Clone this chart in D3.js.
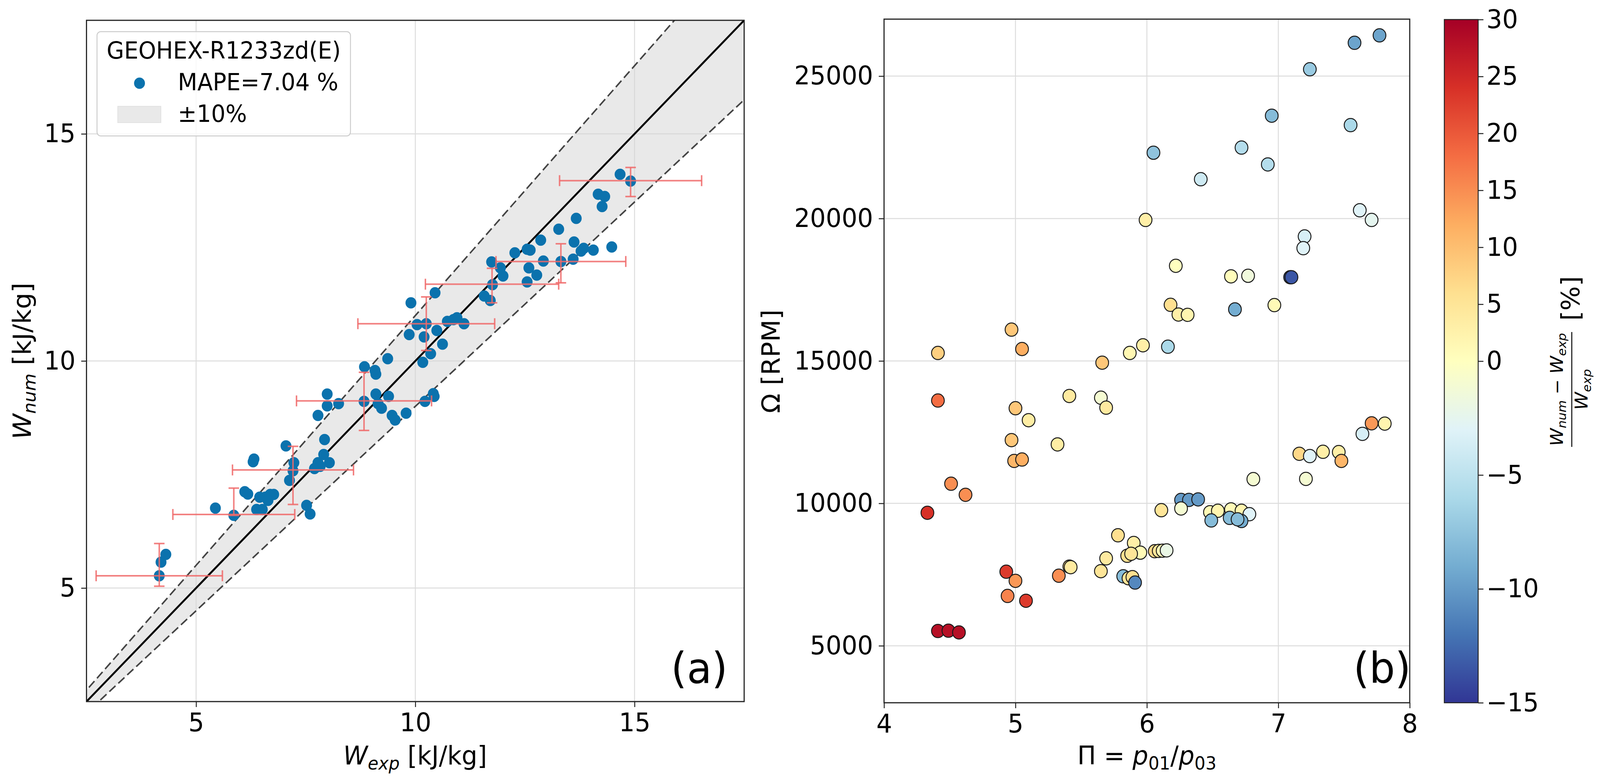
<!DOCTYPE html>
<html>
<head>
<meta charset="utf-8">
<script src="https://cdn.jsdelivr.net/npm/d3@7"></script>
<style>
  html, body { margin: 0; padding: 0; overflow: hidden; background: #fff; }
  svg { display: block; }
  text { font-family: "DejaVu Sans", sans-serif; fill: #000; }
</style>
</head>
<body>
<script>
// panel (a): numerical vs experimental work, kJ/kg
var wExp = [4.16,4.20,4.31,5.44,5.86,6.11,6.18,6.32,6.30,6.38,6.51,6.45,6.58,6.69,6.77,6.64,
  7.05,7.23,7.21,7.13,7.52,7.60,7.93,7.91,8.04,7.78,7.70,7.83,7.99,7.78,7.99,8.25,8.83,8.84,
  9.08,9.10,9.37,9.10,9.39,9.15,9.23,9.47,9.54,9.79,10.22,10.43,10.41,9.86,10.20,10.35,10.17,
  10.62,10.49,10.04,10.25,10.73,10.87,10.95,11.11,9.90,10.45,11.57,11.71,11.76,12.00,11.94,
  11.74,12.27,12.55,12.62,12.86,12.59,12.77,12.55,12.92,13.32,13.27,13.67,13.62,13.60,13.78,
  13.84,14.06,14.48,14.17,14.32,14.26,14.67,14.91];
var wNum = [5.27,5.57,5.74,6.76,6.60,7.12,7.07,7.84,7.78,6.73,6.73,7.00,7.00,7.06,7.06,6.93,
  8.13,7.76,7.58,7.37,6.82,6.63,8.27,7.94,7.76,7.76,7.63,7.68,9.27,8.80,9.01,9.06,9.11,9.87,
  9.79,9.71,10.05,9.27,9.22,9.06,8.96,8.80,8.70,8.85,9.11,9.22,9.28,10.58,10.53,10.16,9.97,
  10.37,10.67,10.80,10.82,10.87,10.91,10.95,10.82,11.28,11.50,11.43,11.33,11.68,11.87,12.05,
  12.18,12.38,12.46,12.44,12.66,12.05,11.89,11.74,12.20,12.19,12.90,13.14,12.62,12.24,12.42,
  12.48,12.44,12.51,13.67,13.62,13.40,14.11,13.96];

// binned uncertainty bars
var barX = [4.16,5.86,7.21,8.83,10.25,11.75,13.32,14.91];
var barHy = [5.27,6.62,7.60,9.12,10.82,11.69,12.19,13.97];
var barXerr = [1.44,1.39,1.38,1.54,1.56,1.52,1.48,1.62];
var barVy = [5.51,6.90,7.48,9.11,10.82,11.66,12.15,13.94];
var barYerr = [0.47,0.30,0.64,0.64,0.59,0.38,0.43,0.32];

var ticksA = [5,10,15];

// panel (b): pressure ratio, speed and deviation (%)
var piRatio = [7.77,7.58,7.24,6.95,7.55,6.05,6.72,6.92,6.41,7.62,7.71,5.99,7.20,7.19,6.22,6.64,
  6.77,7.09,7.10,6.18,6.24,6.31,6.67,6.97,4.97,5.05,4.41,5.66,5.87,5.97,6.16,4.41,5.41,5.65,
  5.69,5.00,5.10,4.97,5.32,4.99,5.05,7.71,7.81,7.64,7.16,7.24,7.34,7.46,7.48,6.81,7.21,
  4.51,4.62,4.33,6.11,6.26,6.32,6.39,6.26,6.48,6.54,6.64,6.72,6.78,6.49,6.63,6.72,6.69,
  5.78,5.90,5.95,5.85,5.88,6.06,6.09,6.12,6.15,5.69,5.65,5.41,5.42,5.33,4.93,5.00,4.94,
  5.08,5.82,5.86,5.89,5.91,4.41,4.49,4.57];
var omega = [26430,26170,25240,23610,23280,22310,22490,21900,21380,20290,19950,19950,19370,
  18960,18340,17970,17990,17940,17940,16970,16630,16620,16810,16960,16100,15420,15280,14940,
  15280,15550,15500,13610,13770,13710,13360,13340,12920,12220,12070,11490,11540,12810,12800,
  12440,11740,11660,11810,11800,11490,10850,10860,10690,10300,9670,9760,10120,10120,10140,
  9820,9690,9740,9790,9740,9620,9400,9490,9380,9440,8880,8610,8270,8160,8230,8320,8330,8340,
  8350,8070,7620,7780,7760,7460,7600,7280,6750,6580,7440,7370,7410,7220,5520,5530,5470];
var deviation = [-9.5,-9.5,-7,-8,-6,-7.5,-5.5,-5.5,-4,-3,-2.5,3,-3.5,-3,0,0.5,-1.5,-13.5,
  -13.5,6,3,2,-9,1,9,12,8,9,1.5,3,-6,18,4,-1,4,9,3.5,9,3.5,11,12,14,2,-3.5,7,-3,3,3,11,-1,-1,
  15,15,24,5,-10,-10,-10,-1,1,2,1,2,-3,-8,-8,-9,-8,6,3,1,6,5,7,5,1,-2,4,5,6,4,15,23,14,16,
  23,-8,5,6,-11,28,28,28];

var ticksBx = [4,5,6,7,8];
var ticksBy = [5000,10000,15000,20000,25000];
var ticksCb = [30,25,20,15,10,5,0,-5,-10,-15];

// RdYlBu reversed, matplotlib stops
var cmapStops = ["#313695","#4575b4","#74add1","#abd9e9","#e0f3f8","#ffffbf",
  "#fee090","#fdae61","#f46d43","#d73027","#a50026"];

var W = 4255, H = 2007;
var fs = 66;

// fit the drawing to whatever the window really shows
var vw = window.innerWidth || W, vh = window.innerHeight || H;
var svg = d3.select("body").append("svg")
  .attr("width", vw).attr("height", vh)
  .attr("viewBox", "0 0 " + W + " " + H)
  .attr("preserveAspectRatio", "none");
svg.append("rect").attr("width", W).attr("height", H).attr("fill", "#fff");

function fmt(v) { return String(v).replace("-", "\u2212"); }

// grid lines behind everything
function axesGrid(g, x, y, xt, yt) {
  var x0 = x.range()[0], x1 = x.range()[1];
  var y0 = y.range()[0], y1 = y.range()[1];
  g.append("g").selectAll("line").data(xt).enter().append("line")
    .attr("x1", function(d) { return x(d); }).attr("x2", function(d) { return x(d); })
    .attr("y1", y0).attr("y2", y1)
    .attr("stroke", "#dcdcdc").attr("stroke-width", 2.5);
  g.append("g").selectAll("line").data(yt).enter().append("line")
    .attr("y1", function(d) { return y(d); }).attr("y2", function(d) { return y(d); })
    .attr("x1", x0).attr("x2", x1)
    .attr("stroke", "#dcdcdc").attr("stroke-width", 2.5);
}

// ticks, labels and frame on top
function axesTicks(g, x, y, xt, yt) {
  var xAxis = d3.axisBottom(x).tickValues(xt).tickSize(14).tickPadding(15)
    .tickFormat(fmt);
  var yAxis = d3.axisLeft(y).tickValues(yt).tickSize(14).tickPadding(15)
    .tickFormat(fmt);
  var gx = g.append("g").attr("transform", "translate(0," + y.range()[0] + ")").call(xAxis);
  var gy = g.append("g").attr("transform", "translate(" + x.range()[0] + ",0)").call(yAxis);
  [gx, gy].forEach(function(a) {
    a.select(".domain").remove();
    a.selectAll(".tick line").attr("stroke", "#222").attr("stroke-width", 2.5);
    a.selectAll(".tick text").style("font-size", fs + "px").attr("fill", "#000");
  });
  g.append("rect")
    .attr("x", x.range()[0]).attr("y", y.range()[1])
    .attr("width", x.range()[1] - x.range()[0]).attr("height", y.range()[0] - y.range()[1])
    .attr("fill", "none").attr("stroke", "#222").attr("stroke-width", 3);
}

// ---------------- panel (a)
var xa = d3.scaleLinear().domain([2.5, 17.5]).range([230, 1979]);
var ya = d3.scaleLinear().domain([2.5, 17.5]).range([1796, 52]);
var ga = svg.append("g");
axesGrid(ga, xa, ya, ticksA, ticksA);

svg.append("clipPath").attr("id", "clipA").append("rect")
  .attr("x", 230).attr("y", 52).attr("width", 1749).attr("height", 1744);
var pa = ga.append("g").attr("clip-path", "url(#clipA)");

var band = d3.area()
  .x(function(d) { return xa(d); })
  .y0(function(d) { return ya(0.9 * d); })
  .y1(function(d) { return ya(1.1 * d); });
var diag = [2.0, 18.0];
pa.append("path").datum(diag).attr("d", band)
  .attr("fill", "#d3d3d3").attr("fill-opacity", 0.5);
[0.9, 1.1].forEach(function(k) {
  pa.append("path").datum(diag)
    .attr("d", d3.line().x(function(d) { return xa(d); }).y(function(d) { return ya(k * d); }))
    .attr("fill", "none").attr("stroke", "#444").attr("stroke-width", 4)
    .attr("stroke-dasharray", "22,10");
});
pa.append("path").datum(diag)
  .attr("d", d3.line().x(function(d) { return xa(d); }).y(function(d) { return ya(d); }))
  .attr("fill", "none").attr("stroke", "#000").attr("stroke-width", 5);

pa.append("g").selectAll("circle").data(wExp).enter().append("circle")
  .attr("cx", function(d) { return xa(d); })
  .attr("cy", function(d, i) { return ya(wNum[i]); })
  .attr("r", 14.5).attr("fill", "#0b72ad");

var eb = pa.append("g").attr("stroke", "#f06a6a").attr("stroke-opacity", 0.85)
  .attr("stroke-width", 4).attr("fill", "none");
var cap = 14;
barX.forEach(function(cx, i) {
  var xl = xa(cx - barXerr[i]), xr = xa(cx + barXerr[i]), yh = ya(barHy[i]);
  eb.append("line").attr("x1", xl).attr("x2", xr).attr("y1", yh).attr("y2", yh);
  eb.append("line").attr("x1", xl).attr("x2", xl).attr("y1", yh - cap).attr("y2", yh + cap);
  eb.append("line").attr("x1", xr).attr("x2", xr).attr("y1", yh - cap).attr("y2", yh + cap);
  var yt = ya(barVy[i] + barYerr[i]), yb = ya(barVy[i] - barYerr[i]), xv = xa(cx);
  eb.append("line").attr("x1", xv).attr("x2", xv).attr("y1", yt).attr("y2", yb);
  eb.append("line").attr("x1", xv - cap).attr("x2", xv + cap).attr("y1", yt).attr("y2", yt);
  eb.append("line").attr("x1", xv - cap).attr("x2", xv + cap).attr("y1", yb).attr("y2", yb);
});

axesTicks(ga, xa, ya, ticksA, ticksA);

// legend
var lfs = 60;
var lg = ga.append("g");
lg.append("rect").attr("x", 258).attr("y", 81).attr("width", 674).attr("height", 267)
  .attr("rx", 10).attr("fill", "#fff").attr("fill-opacity", 0.8)
  .attr("stroke", "#cccccc").attr("stroke-width", 2.5);
lg.append("text").attr("x", 595).attr("y", 150).attr("text-anchor", "middle")
  .style("font-size", lfs + "px").text("GEOHEX-R1233zd(E)");
lg.append("circle").attr("cx", 371).attr("cy", 213).attr("r", 14.5).attr("fill", "#0b72ad");
lg.append("text").attr("x", 473).attr("y", 231).style("font-size", lfs + "px")
  .text("MAPE=7.04 %");
lg.append("rect").attr("x", 313).attr("y", 272).attr("width", 115).attr("height", 42)
  .attr("fill", "#d3d3d3").attr("fill-opacity", 0.5).attr("stroke", "#d3d3d3")
  .attr("stroke-opacity", 0.5).attr("stroke-width", 2);
lg.append("text").attr("x", 473).attr("y", 312).style("font-size", lfs + "px")
  .text("\u00b110%");

ga.append("text").attr("x", 1935).attr("y", 1748).attr("text-anchor", "end")
  .style("font-size", "108px").text("(a)");

// axis labels (a)
var labA = ga.append("text").attr("x", 1104).attr("y", 1957).attr("text-anchor", "middle")
  .style("font-size", fs + "px");
labA.append("tspan").attr("font-style", "italic").text("W");
labA.append("tspan").attr("font-style", "italic").attr("font-size", "46px")
  .attr("dy", 13).text("exp");
labA.append("tspan").attr("dy", -13).text(" [kJ/kg]");

var labAy = ga.append("text").attr("transform", "translate(82,924) rotate(-90)")
  .attr("text-anchor", "middle").style("font-size", fs + "px");
labAy.append("tspan").attr("font-style", "italic").text("W");
labAy.append("tspan").attr("font-style", "italic").attr("font-size", "46px")
  .attr("dy", 13).text("num");
labAy.append("tspan").attr("dy", -13).text(" [kJ/kg]");

// ---------------- panel (b)
var xb = d3.scaleLinear().domain([4, 8]).range([2351, 3749]);
var yb = d3.scaleLinear().domain([3000, 27000]).range([1799, 49]);
var gb = svg.append("g");
axesGrid(gb, xb, yb, [5,6,7], ticksBy);

var norm = d3.scaleLinear().domain([-15, 0, 30]).range([0, 0.5, 1]).clamp(true);
var cmap = d3.scaleLinear().domain(d3.range(11).map(function(i) { return i / 10; }))
  .range(cmapStops).interpolate(d3.interpolateRgb);

gb.append("g").selectAll("circle").data(piRatio).enter().append("circle")
  .attr("cx", function(d) { return xb(d); })
  .attr("cy", function(d, i) { return yb(omega[i]); })
  .attr("r", 17)
  .attr("fill", function(d, i) { return cmap(norm(deviation[i])); })
  .attr("stroke", "#1a1a1a").attr("stroke-width", 2.5);

axesTicks(gb, xb, yb, ticksBx, ticksBy);

gb.append("text").attr("x", 3752).attr("y", 1748).attr("text-anchor", "end")
  .style("font-size", "108px").text("(b)");

var labB = gb.append("text").attr("x", 3050).attr("y", 1957).attr("text-anchor", "middle")
  .style("font-size", fs + "px");
labB.append("tspan").text("\u03a0 = ");
labB.append("tspan").attr("font-style", "italic").text("p");
labB.append("tspan").attr("font-size", "46px").attr("dy", 13).text("01");
labB.append("tspan").attr("dy", -13).text("/");
labB.append("tspan").attr("font-style", "italic").text("p");
labB.append("tspan").attr("font-size", "46px").attr("dy", 13).text("03");

gb.append("text").attr("transform", "translate(2073,925) rotate(-90)")
  .attr("text-anchor", "middle").style("font-size", fs + "px").text("\u03a9 [RPM]");

// ---------------- colorbar
var cbY = d3.scaleLinear().domain([-15, 0, 30]).range([1799, 924.5, 50]);
var grad = svg.append("defs").append("linearGradient").attr("id", "cbGrad")
  .attr("x1", 0).attr("y1", 1).attr("x2", 0).attr("y2", 0);
grad.selectAll("stop").data(cmapStops).enter().append("stop")
  .attr("offset", function(d, i) { return i / 10; })
  .attr("stop-color", function(d) { return d; });
var gc = svg.append("g");
gc.append("rect").attr("x", 3841).attr("y", 50).attr("width", 90).attr("height", 1749)
  .attr("fill", "url(#cbGrad)").attr("stroke", "#222").attr("stroke-width", 2.5);
var cbAxis = d3.axisRight(cbY).tickValues(ticksCb).tickSize(14).tickPadding(8)
  .tickFormat(fmt);
var gca = gc.append("g").attr("transform", "translate(3931,0)").call(cbAxis);
gca.select(".domain").remove();
gca.selectAll(".tick line").attr("stroke", "#222").attr("stroke-width", 2.5);
gca.selectAll(".tick text").style("font-size", fs + "px").attr("fill", "#000");

// colorbar label: fraction, rotated
var cl = gc.append("g").attr("transform", "translate(4180,997) rotate(-90)");
var num = cl.append("text").attr("x", 0).attr("y", -24).attr("text-anchor", "middle")
  .style("font-size", "46px");
num.append("tspan").attr("font-style", "italic").text("W");
num.append("tspan").attr("font-style", "italic").attr("font-size", "32px")
  .attr("dy", 9).text("num");
num.append("tspan").attr("dy", -9).text(" \u2212 ");
num.append("tspan").attr("font-style", "italic").text("W");
num.append("tspan").attr("font-style", "italic").attr("font-size", "32px")
  .attr("dy", 9).text("exp");
cl.append("line").attr("x1", -147).attr("x2", 147).attr("y1", 0).attr("y2", 0)
  .attr("stroke", "#000").attr("stroke-width", 2.5);
var den = cl.append("text").attr("x", 0).attr("y", 42).attr("text-anchor", "middle")
  .style("font-size", "46px");
den.append("tspan").attr("font-style", "italic").text("W");
den.append("tspan").attr("font-style", "italic").attr("font-size", "32px")
  .attr("dy", 9).text("exp");
cl.append("text").attr("x", 176).attr("y", 20).style("font-size", fs + "px").text("[%]");
</script>
</body>
</html>
